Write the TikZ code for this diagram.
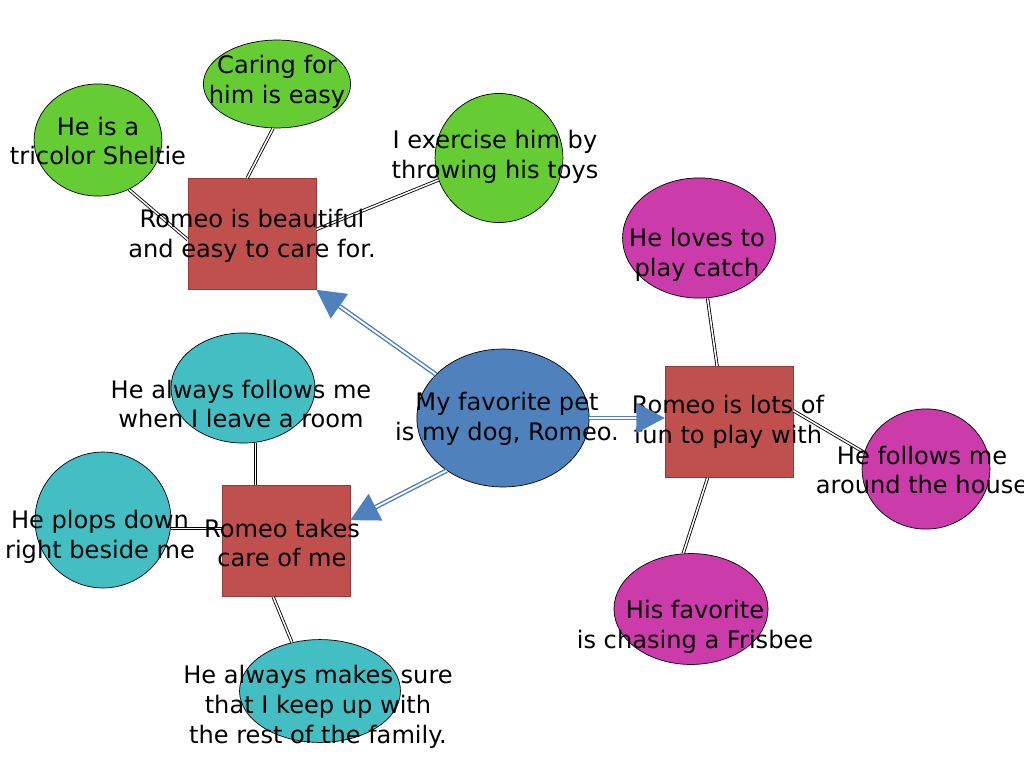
\documentclass[tikz,border=0pt]{standalone}
\usepackage{fontspec}
\setmainfont{DejaVu Sans}
\usepackage{tikz}
\usetikzlibrary{shapes.geometric, arrows.meta}

\definecolor{leafgreen}{HTML}{66CC33}
\definecolor{berry}{HTML}{CC3BAA}
\definecolor{petteal}{HTML}{43BFC4}
\definecolor{brick}{HTML}{C0504D}
\definecolor{slate}{HTML}{4F81BD}

\tikzset{
  bubble/.style={ellipse, draw=black, line width=0.5pt, inner sep=0pt},
  topic/.style={rectangle, fill=brick, draw=brick!75!black, line width=0.5pt,
    minimum width=3.17cm, minimum height=2.75cm, inner sep=0pt},
  words/.style={align=center, font=\fontsize{17}{21}\selectfont, inner sep=0pt},
  link/.style={draw=black, line width=0.6pt, double=white, double distance=1.1pt},
  pointer/.style={draw=slate, line width=1pt, double=white, double distance=1.3pt,
    -{Triangle[length=20pt, width=21pt]}}
}

\begin{document}
\begin{tikzpicture}[x=0.0248cm, y=-0.0248cm]
\useasboundingbox (0,0) rectangle (1024,768);

% middle and the three topics
\node[bubble, fill=slate, minimum width=4.27cm, minimum height=3.42cm] (pet) at (503,418) {};
\node[topic] (beautiful) at (252,234) {};
\node[topic] (fun) at (729,422) {};
\node[topic] (takes) at (286,541) {};

% green
\node[bubble, fill=leafgreen, minimum width=3.17cm, minimum height=2.78cm] (sheltie) at (98,140) {};
\node[bubble, fill=leafgreen, minimum width=3.65cm, minimum height=2.18cm] (caring) at (277,84) {};
\node[bubble, fill=leafgreen, minimum width=3.17cm, minimum height=3.2cm] (exercise) at (499,158) {};

% magenta
\node[bubble, fill=berry, minimum width=3.79cm, minimum height=2.98cm] (catch) at (699,238) {};
\node[bubble, fill=berry, minimum width=3.17cm, minimum height=2.98cm] (follows) at (926,469) {};
\node[bubble, fill=berry, minimum width=3.82cm, minimum height=2.75cm] (frisbee) at (691,609) {};

% teal
\node[bubble, fill=petteal, minimum width=3.57cm, minimum height=2.73cm] (room) at (243,388) {};
\node[bubble, fill=petteal, minimum width=3.37cm, minimum height=3.37cm] (plops) at (103,520) {};
\node[bubble, fill=petteal, minimum width=3.99cm, minimum height=2.55cm] (family) at (320,691) {};

\draw[link] (sheltie.-58) -- (beautiful.185);
\draw[link] (caring.265) -- (beautiful.95);
\draw[link] (beautiful.4) -- (exercise.200);
\draw[link] (catch.278) -- (fun.102);
\draw[link] (fun.10) -- (follows.165);
\draw[link] (fun.249) -- (frisbee.98);
\draw[link] (room.283) -- (room.283 |- takes.north);
\draw[link] (plops.-7) -- (plops.-7 -| takes.west);
\draw[link] (takes.257) -- (family.120);

\node[words] (petlbl) at (507,419) {My favorite pet\\is my dog, Romeo.};
\node[words] (beautifullbl) at (252,236) {Romeo is beautiful\\and easy to care for.};
\node[words] (funlbl) at (728,422) {Romeo is lots of\\fun to play with};
\node[words] (takeslbl) at (282,543) {Romeo takes\\care of me};
\node[words] (sheltielbl) at (98,141) {He is a\\tricolor Sheltie};
\node[words] (caringlbl) at (277,82) {Caring for\\him is easy};
\node[words] (exerciselbl) at (495,157) {I exercise him by\\throwing his toys};
\node[words] (catchlbl) at (697,255) {He loves to\\play catch};
\node[words] (followslbl) at (922,470) {He follows me\\around the house};
\node[words] (frisbeelbl) at (695,627) {His favorite\\is chasing a Frisbee};
\node[words] (roomlbl) at (241,404) {He always follows me\\when I leave a room};
\node[words] (plopslbl) at (100,537) {He plops down\\right beside me};
\node[words] (familylbl) at (318,707) {He always makes sure\\that I keep up with\\the rest of the family.};

\draw[pointer] (pet.147) -- (beautiful.south east);
\draw[pointer] (pet.east) -- (pet.east -| fun.west);
\draw[pointer] (pet.223) -- (takes.18);
\end{tikzpicture}
\end{document}
